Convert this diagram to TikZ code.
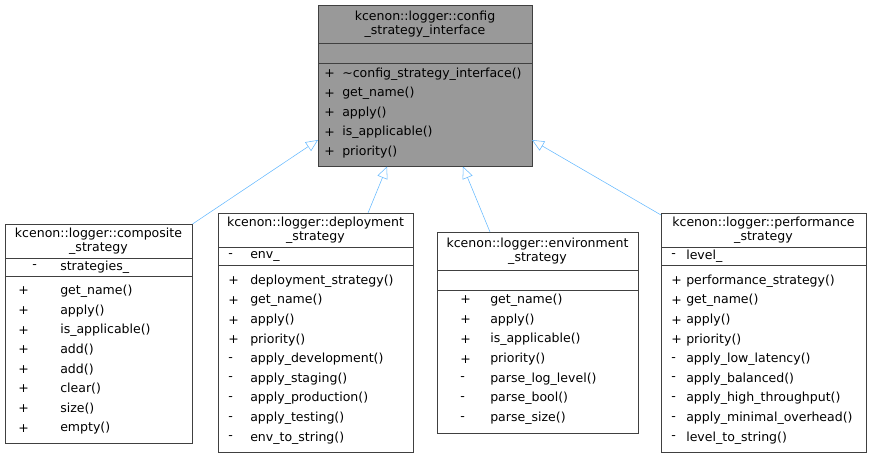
\documentclass[tikz,border=0pt]{standalone}
\usepackage{fontspec}
\setmainfont{DejaVu Sans}
\usetikzlibrary{arrows.meta,positioning,calc}

\definecolor{edgeblue}{HTML}{63B8FF}
\definecolor{headgray}{HTML}{999999}
\definecolor{linegray}{HTML}{404040}

\begin{document}
\begin{tikzpicture}[x=0.75pt,y=-0.75pt,
    classbox/.style={draw=linegray,anchor=north west,inner sep=0pt},
    txt/.style={font=\fontsize{9.4}{10.5}\selectfont,inner sep=0pt,anchor=west},
    ttl/.style={font=\fontsize{9.4}{10.5}\selectfont,align=center,inner sep=0pt},
    inherit/.style={draw=edgeblue,-{Triangle[open,length=9pt,width=8pt]}}]
    \useasboundingbox (0,0) rectangle (871,459);

    % Base class
    \node[classbox,fill=headgray,minimum width=214*0.75pt,minimum height=161*0.75pt] (base) at (318,5) {};
    \node[ttl] (basettl) at (425,24) {kcenon::logger::config\\\_strategy\_interface};
    \draw[linegray] (318,43) -- (532,43) (318,63) -- (532,63);
    \foreach \n/\m in {0/\textasciitilde config\_strategy\_interface(),1/get\_name(),2/apply(),3/is\_applicable(),4/priority()} {
        \node[txt] at (324,74+19.5*\n) {+};
        \node[txt] at (342,74+19.5*\n) {\m};
    }

    % Composite
    \node[classbox,fill=white,minimum width=187*0.75pt,minimum height=219*0.75pt] (comp) at (5,224) {};
    \node[ttl] (compttl) at (98.5,241) {kcenon::logger::composite\\\_strategy};
    \draw[linegray] (5,258) -- (192,258) (5,276) -- (192,276);
    \node[txt] at (32,267) {-};
    \node[txt] at (60,267) {strategies\_};
    \foreach \n/\m in {0/get\_name(),1/apply(),2/is\_applicable(),3/add(),4/add(),5/clear(),6/size(),7/empty()} {
        \node[txt] at (18,291+19.6*\n) {+};
        \node[txt] at (60,291+19.6*\n) {\m};
    }

    % Deployment
    \node[classbox,fill=white,minimum width=195*0.75pt,minimum height=239*0.75pt] (depl) at (218,213) {};
    \node[ttl] (deplttl) at (315.5,230) {kcenon::logger::deployment\\\_strategy};
    \draw[linegray] (218,247) -- (413,247) (218,265) -- (413,265);
    \node[txt] at (228,256) {-};
    \node[txt] at (250,256) {env\_};
    \foreach \s/\m [count=\i from 0] in {+/deployment\_strategy(),+/get\_name(),+/apply(),+/priority(),-/apply\_development(),-/apply\_staging(),-/apply\_production(),-/apply\_testing(),-/env\_to\_string()} {
        \node[txt] at (228,281+19.6*\i) {\s};
        \node[txt] at (250,281+19.6*\i) {\m};
    }

    % Environment
    \node[classbox,fill=white,minimum width=201*0.75pt,minimum height=201*0.75pt] (envr) at (437,232) {};
    \node[ttl] (envrttl) at (537.5,251) {kcenon::logger::environment\\\_strategy};
    \draw[linegray] (437,270) -- (638,270) (437,290) -- (638,290);
    \foreach \s/\m [count=\i from 0] in {+/get\_name(),+/apply(),+/is\_applicable(),+/priority(),-/parse\_log\_level(),-/parse\_bool(),-/parse\_size()} {
        \node[txt] at (460,300+19.7*\i) {\s};
        \node[txt] at (490,300+19.7*\i) {\m};
    }

    % Performance
    \node[classbox,fill=white,minimum width=205*0.75pt,minimum height=239*0.75pt] (perf) at (661,213) {};
    \node[ttl] (perfttl) at (763.5,230) {kcenon::logger::performance\\\_strategy};
    \draw[linegray] (661,247) -- (866,247) (661,265) -- (866,265);
    \node[txt] at (671,256) {-};
    \node[txt] at (686,256) {level\_};
    \foreach \s/\m [count=\i from 0] in {+/performance\_strategy(),+/get\_name(),+/apply(),+/priority(),-/apply\_low\_latency(),-/apply\_balanced(),-/apply\_high\_throughput(),-/apply\_minimal\_overhead(),-/level\_to\_string()} {
        \node[txt] at (671,281+19.6*\i) {\s};
        \node[txt] at (686,281+19.6*\i) {\m};
    }

    % Inheritance
    \coordinate (baseL) at (318,140);
    \coordinate (baseR) at (532,140);
    \draw[inherit] (comp.north east) -- (baseL);
    \draw[inherit] ($(depl.north west)+(150,0)$) -- ($(base.south west)+(69,0)$);
    \draw[inherit] ($(envr.north west)+(53,0)$) -- ($(base.south west)+(145,0)$);
    \draw[inherit] ($(perf.north west)+(0,2)$) -- (baseR);
\end{tikzpicture}
\end{document}
